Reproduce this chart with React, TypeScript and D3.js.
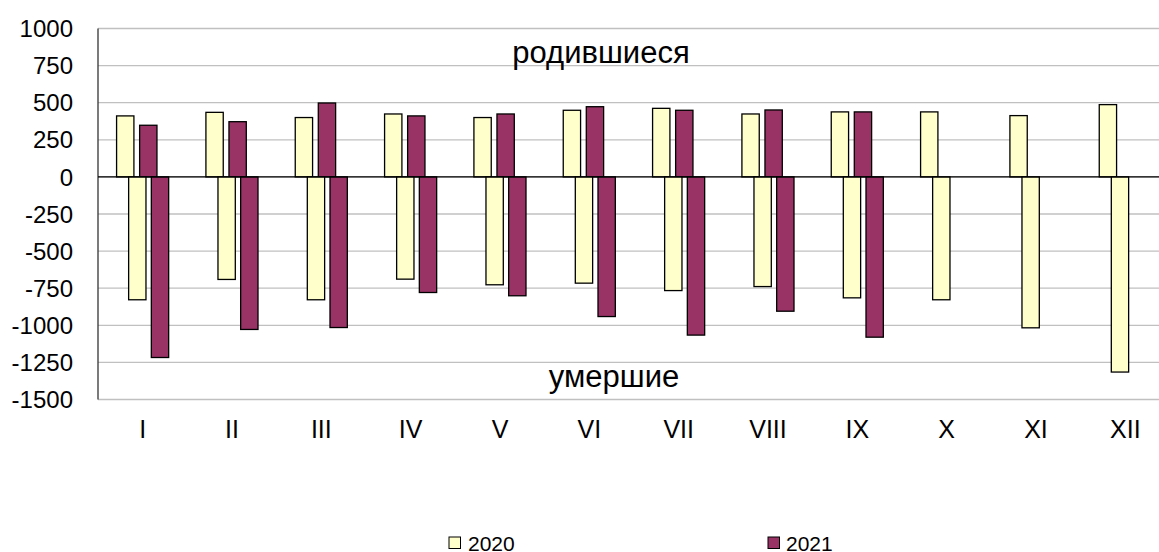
import React from 'react';
import * as d3 from 'd3';

const months = ['I', 'II', 'III', 'IV', 'V', 'VI', 'VII', 'VIII', 'IX', 'X', 'XI', 'XII'];
const births2020 = [411, 435, 400, 424, 400, 449, 462, 424, 438, 438, 413, 487];
const births2021 = [348, 372, 498, 411, 424, 473, 449, 451, 438];
const deaths2020 = [-828, -691, -828, -689, -727, -716, -766, -739, -815, -828, -1017, -1315];
const deaths2021 = [-1217, -1028, -1015, -779, -801, -941, -1066, -905, -1080];
const yTicks = [1000, 750, 500, 250, 0, -250, -500, -750, -1000, -1250, -1500];

const W = 1159;
const H = 552;
const left = 98;
const right = 1170;
const top = 28.5;
const bottom = 399.5;
const font = 'Arial, "Liberation Sans", sans-serif';
const fill2020 = '#ffffcc';
const fill2021 = '#993366';

const App = () => {
  const x = d3.scaleBand().domain(months).range([left, right]);
  const y = d3.scaleLinear().domain([-1500, 1000]).range([bottom, top]);
  const bw = x.bandwidth();
  const barW = bw * 0.194;
  // births group sits a bit left of centre, deaths group a bit right
  const off = { b20: -0.292, b21: -0.034, d20: -0.157, d21: 0.097 };

  const bar = (m: string, v: number, o: number, color: string, key: string) => {
    const c = (x(m) as number) + bw / 2;
    const y0 = y(0);
    const yv = y(v);
    return (
      <rect key={key} x={c + o * bw} y={Math.min(y0, yv)} width={barW}
        height={Math.abs(yv - y0)} fill={color} stroke="#000" strokeWidth={1.3} />
    );
  };

  return (
    <svg width={W} height={H} style={{ position: 'absolute', left: 0, top: 0, background: '#fff' }}>
      {yTicks.map(t => (
        <g key={t}>
          <line x1={left} x2={W} y1={y(t)} y2={y(t)} stroke="#c0c0c0" strokeWidth={1.3} />
          <text x={73} y={y(t)} dy="0.36em" textAnchor="end" fontFamily={font} fontSize={24} fill="#000">{t}</text>
        </g>
      ))}
      <line x1={left} x2={left} y1={top} y2={bottom} stroke="#333" strokeWidth={1.3} />
      {months.map((m, i) => bar(m, births2020[i], off.b20, fill2020, 'b20' + i))}
      {births2021.map((v, i) => bar(months[i], v, off.b21, fill2021, 'b21' + i))}
      {months.map((m, i) => bar(m, deaths2020[i], off.d20, fill2020, 'd20' + i))}
      {deaths2021.map((v, i) => bar(months[i], v, off.d21, fill2021, 'd21' + i))}
      <line x1={left} x2={W} y1={y(0)} y2={y(0)} stroke="#000" strokeWidth={1.3} />
      {months.map(m => (
        <text key={m} x={(x(m) as number) + bw / 2} y={438} textAnchor="middle"
          fontFamily={font} fontSize={25} fill="#000">{m}</text>
      ))}
      <text x={601} y={63} textAnchor="middle" fontFamily={font} fontSize={31} fill="#000">родившиеся</text>
      <text x={614} y={387} textAnchor="middle" fontFamily={font} fontSize={31} fill="#000">умершие</text>
      <rect x={449} y={537} width={11.5} height={11.5} fill={fill2020} stroke="#000" strokeWidth={1} />
      <text x={468} y={551} fontFamily={font} fontSize={21} fill="#000">2020</text>
      <rect x={768} y={537} width={11.5} height={11.5} fill={fill2021} stroke="#000" strokeWidth={1} />
      <text x={786} y={551} fontFamily={font} fontSize={21} fill="#000">2021</text>
    </svg>
  );
};

export default App;
